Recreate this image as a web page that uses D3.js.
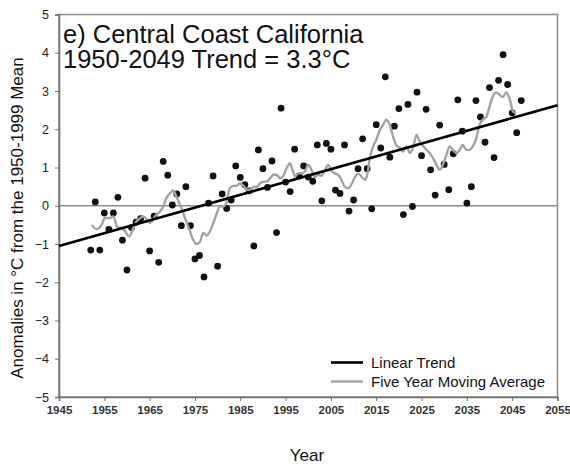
<!DOCTYPE html>
<html>
<head>
<meta charset="utf-8">
<script src="https://cdn.jsdelivr.net/npm/d3@7"></script>
<style>
  body { margin: 0; background: #fff; }
  svg { font-family: "Liberation Sans", Arial, sans-serif; }
</style>
</head>
<body>
<div id="chart"></div>
<script>
// annual anomalies, 1952-2047
const firstYear = 1952;
const anomalies = [
  -1.16, 0.10, -1.16, -0.19, -0.62, -0.19, 0.22, -0.90, -1.68, -0.57,
  -0.43, -0.34, 0.72, -1.18, -0.27, -1.48, 1.16, 0.80, 0.02, 0.31,
  -0.52, 0.50, -0.52, -1.39, -1.30, -1.86, 0.07, 0.78, -1.58, 0.31,
  -0.07, 0.15, 1.04, 0.74, 0.55, 0.39, -1.05, 1.46, 0.97, 0.48,
  1.17, -0.70, 2.55, 0.62, 0.37, 1.48, 0.78, 1.04, 0.75, 0.64,
  1.59, 0.13, 1.63, 1.48, 0.41, 0.32, 1.59, -0.14, 0.15, 0.97,
  1.75, 0.97, -0.08, 2.12, 1.51, 3.37, 1.27, 2.08, 2.54, -0.23,
  2.65, -0.02, 2.97, 1.31, 2.52, 0.94, 0.28, 2.11, 1.08, 0.42,
  1.36, 2.77, 1.95, 0.07, 0.50, 2.75, 2.32, 1.66, 3.09, 1.26,
  3.28, 3.95, 3.17, 2.43, 1.91, 2.75
];
const years = anomalies.map((d, i) => firstYear + i);

// five year moving average
const maYears = [
  1952.2, 1953.3, 1954.4, 1955.1, 1956.2, 1957.0, 1957.9, 1958.8, 1959.6, 1960.5,
  1961.4, 1962.1, 1962.9, 1963.6, 1964.3, 1965.1, 1965.8, 1966.5, 1967.3, 1968.0,
  1968.7, 1969.5, 1970.2, 1970.9, 1971.7, 1972.4, 1973.2, 1973.9, 1974.6, 1975.4,
  1976.1, 1976.8, 1977.6, 1978.3, 1979.0, 1979.8, 1980.5, 1981.2, 1982.0, 1982.7,
  1983.5, 1984.2, 1984.9, 1985.7, 1986.4, 1987.2, 1987.9, 1988.6, 1989.4, 1990.1,
  1990.8, 1991.6, 1992.3, 1993.0, 1993.8, 1994.5, 1995.2, 1996.0, 1996.5, 1997.1,
  1997.8, 1998.5, 1999.3, 2000.0, 2000.7, 2001.5, 2002.2, 2002.9, 2003.7, 2004.4,
  2005.1, 2005.9, 2006.6, 2007.3, 2008.1, 2008.8, 2009.5, 2010.3, 2011.0, 2011.7,
  2012.5, 2013.0, 2013.6, 2014.3, 2015.0, 2015.8, 2016.5, 2017.2, 2018.0, 2018.7,
  2019.4, 2020.2, 2020.9, 2021.7, 2022.4, 2023.1, 2023.9, 2024.6, 2025.3, 2026.1,
  2026.8, 2027.5, 2028.3, 2029.0, 2029.7, 2030.5, 2031.2, 2031.9, 2032.7, 2033.4,
  2034.1, 2034.9, 2035.6, 2036.3, 2037.1, 2037.8, 2038.5, 2039.3, 2040.0, 2040.7,
  2041.5, 2042.2, 2042.9, 2043.7, 2044.4, 2045.2, 2045.9
];
const maValues = [
  -0.50, -0.61, -0.50, -0.32, -0.32, -0.28, -0.56, -0.58, -0.67, -0.80,
  -0.58, -0.41, -0.32, -0.28, -0.35, -0.45, -0.35, -0.23, -0.15, -0.02,
  0.20, 0.33, 0.40, 0.24, 0.03, -0.19, -0.45, -0.67, -0.89, -1.00,
  -0.95, -0.71, -0.78, -0.67, -0.47, -0.21, -0.01, -0.02, 0.11, 0.46,
  0.52, 0.52, 0.59, 0.52, 0.42, 0.42, 0.49, 0.49, 0.59, 0.63,
  0.63, 0.72, 0.81, 0.81, 0.72, 0.78, 0.98, 1.11, 0.94, 0.77,
  0.85, 0.85, 0.90, 1.07, 0.94, 0.75, 0.81, 0.78, 0.94, 1.07,
  0.92, 0.84, 0.81, 0.68, 0.49, 0.46, 0.55, 0.75, 0.84, 0.77,
  0.68, 0.80, 1.25, 1.55, 1.72, 1.98, 2.11, 2.25, 2.11, 1.81,
  1.59, 1.51, 1.42, 1.55, 1.38, 1.51, 1.85, 1.68, 1.57, 1.46,
  1.38, 1.25, 1.07, 0.94, 1.07, 1.33, 1.55, 1.46, 1.38, 1.46,
  1.59, 1.46, 1.46, 1.55, 1.77, 2.11, 2.25, 2.33, 2.59, 2.85,
  2.96, 2.90, 2.84, 2.96, 2.81, 2.46, 2.42
];

// linear trend end points
const trendYears = [1945, 2055];
const trendValues = [-1.05, 2.63];

const xTicks = [1945, 1955, 1965, 1975, 1985, 1995, 2005, 2015, 2025, 2035, 2045, 2055];
const yTicks = [-5, -4, -3, -2, -1, 0, 1, 2, 3, 4, 5];

const width = 570;
const height = 464;
const margin = { left: 59, right: 12, top: 14.5, bottom: 67 };

const svg = d3.select('#chart').append('svg')
  .attr('width', width)
  .attr('height', height);

const x = d3.scaleLinear()
  .domain([1945, 2055])
  .range([margin.left, width - margin.right - 0.5]);
const y = d3.scaleLinear()
  .domain([-5, 5])
  .range([height - margin.bottom, margin.top]);

// frame
svg.append('rect')
  .attr('x', x(1945))
  .attr('y', y(5))
  .attr('width', x(2055) - x(1945))
  .attr('height', y(-5) - y(5))
  .attr('fill', 'none')
  .attr('stroke', '#8c8c8c')
  .attr('stroke-width', 1.5);

// zero line
svg.append('line')
  .attr('x1', x(1945))
  .attr('x2', x(2055))
  .attr('y1', y(0))
  .attr('y2', y(0))
  .attr('stroke', '#8c8c8c')
  .attr('stroke-width', 1.3);

// y axis
const yAxis = svg.append('g')
  .attr('transform', `translate(${x(1945)},0)`)
  .call(d3.axisLeft(y).tickValues(yTicks).tickSize(4).tickPadding(6).tickFormat(d3.format('d')));
yAxis.select('.domain').attr('stroke', '#707070').attr('stroke-width', 1.5);
yAxis.selectAll('.tick line').attr('stroke', '#707070');
yAxis.selectAll('.tick text')
  .attr('font-size', 12.5)
  .attr('fill', '#222');

// x axis
const xAxis = svg.append('g')
  .attr('transform', `translate(0,${y(-5)})`)
  .call(d3.axisBottom(x).tickValues(xTicks).tickSize(4).tickPadding(5).tickFormat(d3.format('d')));
xAxis.select('.domain').attr('stroke', '#707070').attr('stroke-width', 1.5);
xAxis.selectAll('.tick line').attr('stroke', '#707070');
xAxis.selectAll('.tick text')
  .attr('font-size', 11.5)
  .attr('font-weight', 'bold')
  .attr('fill', '#333');

// dots
svg.append('g')
  .selectAll('circle')
  .data(anomalies)
  .enter()
  .append('circle')
  .attr('cx', (d, i) => x(years[i]))
  .attr('cy', d => y(d))
  .attr('r', 3.4)
  .attr('fill', '#111');

// moving average
const maLine = d3.line()
  .x((d, i) => x(maYears[i]))
  .y(d => y(d))
  .curve(d3.curveMonotoneX);
svg.append('path')
  .datum(maValues)
  .attr('d', maLine)
  .attr('fill', 'none')
  .attr('stroke', '#a3a3a3')
  .attr('stroke-width', 2.4);

// trend
const trendLine = d3.line()
  .x((d, i) => x(trendYears[i]))
  .y(d => y(d));
svg.append('path')
  .datum(trendValues)
  .attr('d', trendLine)
  .attr('fill', 'none')
  .attr('stroke', '#000')
  .attr('stroke-width', 2.6);

// title
const title = svg.append('text')
  .attr('x', 63)
  .attr('font-size', 25.5)
  .attr('fill', '#111');
title.append('tspan').attr('x', 63).attr('y', 42.5).text('e) Central Coast California');
title.append('tspan').attr('x', 63).attr('y', 68).text('1950-2049 Trend = 3.3°C');

// axis titles
svg.append('text')
  .attr('transform', 'translate(23,218) rotate(-90)')
  .attr('text-anchor', 'middle')
  .attr('font-size', 17)
  .attr('fill', '#111')
  .text('Anomalies in °C from the 1950-1999 Mean');
svg.append('text')
  .attr('x', 307)
  .attr('y', 461)
  .attr('text-anchor', 'middle')
  .attr('font-size', 17)
  .attr('fill', '#111')
  .text('Year');

// legend
const legend = [
  { label: 'Linear Trend', color: '#000', w: 2.6 },
  { label: 'Five Year Moving Average', color: '#a3a3a3', w: 2.4 },
];
const lg = svg.append('g').attr('transform', 'translate(331,362.5)');
legend.forEach((d, i) => {
  lg.append('line')
    .attr('x1', 0).attr('x2', 32)
    .attr('y1', i * 19).attr('y2', i * 19)
    .attr('stroke', d.color)
    .attr('stroke-width', d.w);
  lg.append('text')
    .attr('x', 40)
    .attr('y', i * 19 + 5)
    .attr('font-size', 15)
    .attr('fill', '#111')
    .text(d.label);
});
</script>
</body>
</html>
